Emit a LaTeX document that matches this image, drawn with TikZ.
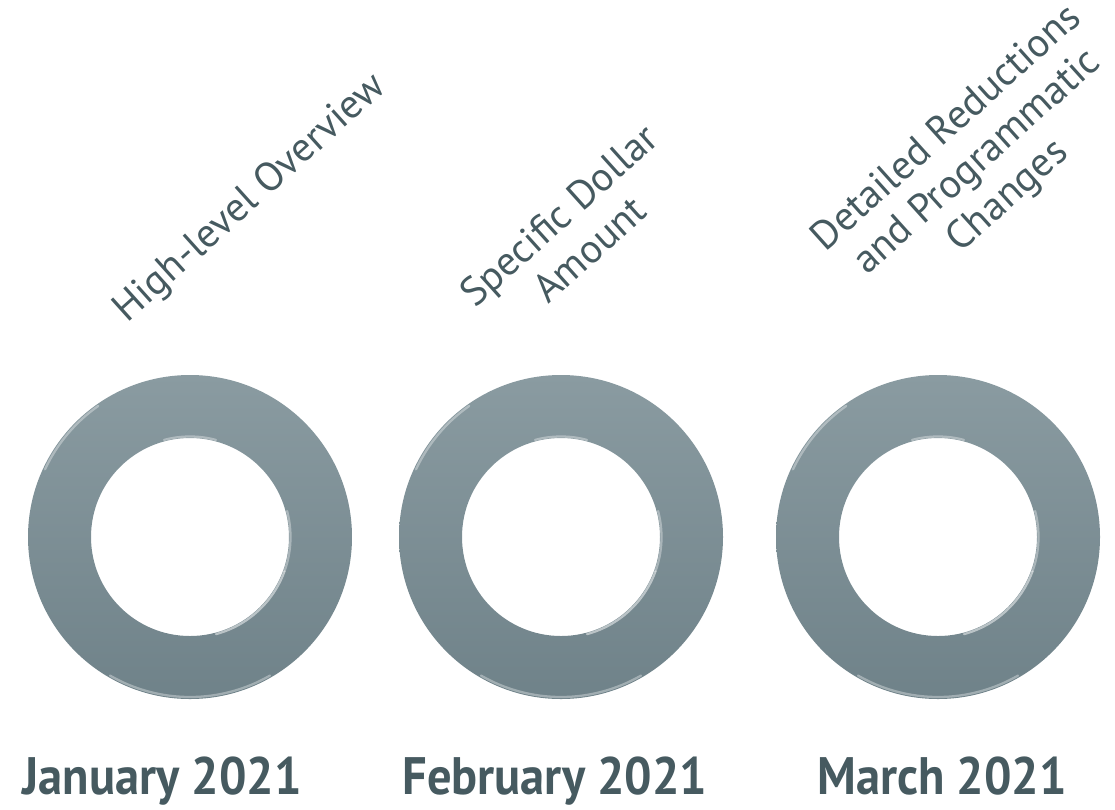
\documentclass[tikz,border=0pt]{standalone}
\usepackage{fontspec}
\setmainfont{PT Sans}
\newfontfamily\monthfont[FakeStretch=0.92]{PT Sans}
\usetikzlibrary{positioning}
\definecolor{ringtop}{HTML}{8A9BA1}
\definecolor{ringbot}{HTML}{6F8289}
\definecolor{slate}{HTML}{465A60}

\begin{document}
\begin{tikzpicture}[
  x=0.02cm, y=-0.02cm,
  ring/.style={top color=ringtop,bottom color=ringbot,even odd rule},
  shine/.style={white,opacity=0.35,line width=1.3pt,line cap=round},
  tilted/.style={text=slate,rotate=42,align=center,font=\fontsize{23}{26}\selectfont},
  month/.style={text=slate,anchor=base,font=\monthfont\bfseries\fontsize{30}{32}\selectfont}
]
\useasboundingbox (0,0) rectangle (1115,809);

\coordinate (jan) at (190,537);
\coordinate (feb) at (561,537);
\coordinate (mar) at (938,537);

% the three rings
\foreach \c in {jan,feb,mar}{
  \shade[ring] (\c) circle (162) (\c) circle (99);
  \draw[shine] ([shift={(120:160)}]\c) arc (120:60:160);
  \draw[shine] ([shift={(235:160)}]\c) arc (235:205:160);
  \draw[shine,opacity=0.5] ([shift={(75:100.5)}]\c) arc (75:20:100.5);
  \draw[shine] ([shift={(20:100.5)}]\c) arc (20:-15:100.5);
  \draw[shine] ([shift={(285:100.5)}]\c) arc (285:255:100.5);
}

\node[tilted] (over) at (251,199) {High-level Overview};
\node[tilted] (dollar) at (574,232) {Specific Dollar\\Amount};
\node[tilted] (detail) at (978,163) {Detailed Reductions\\and Programmatic\\Changes};

\node[month] (janlbl) at (162,794) {January 2021};
\node[month] (feblbl) at (555,794) {February 2021};
\node[month] (marlbl) at (942,794) {March 2021};

\end{tikzpicture}
\end{document}
